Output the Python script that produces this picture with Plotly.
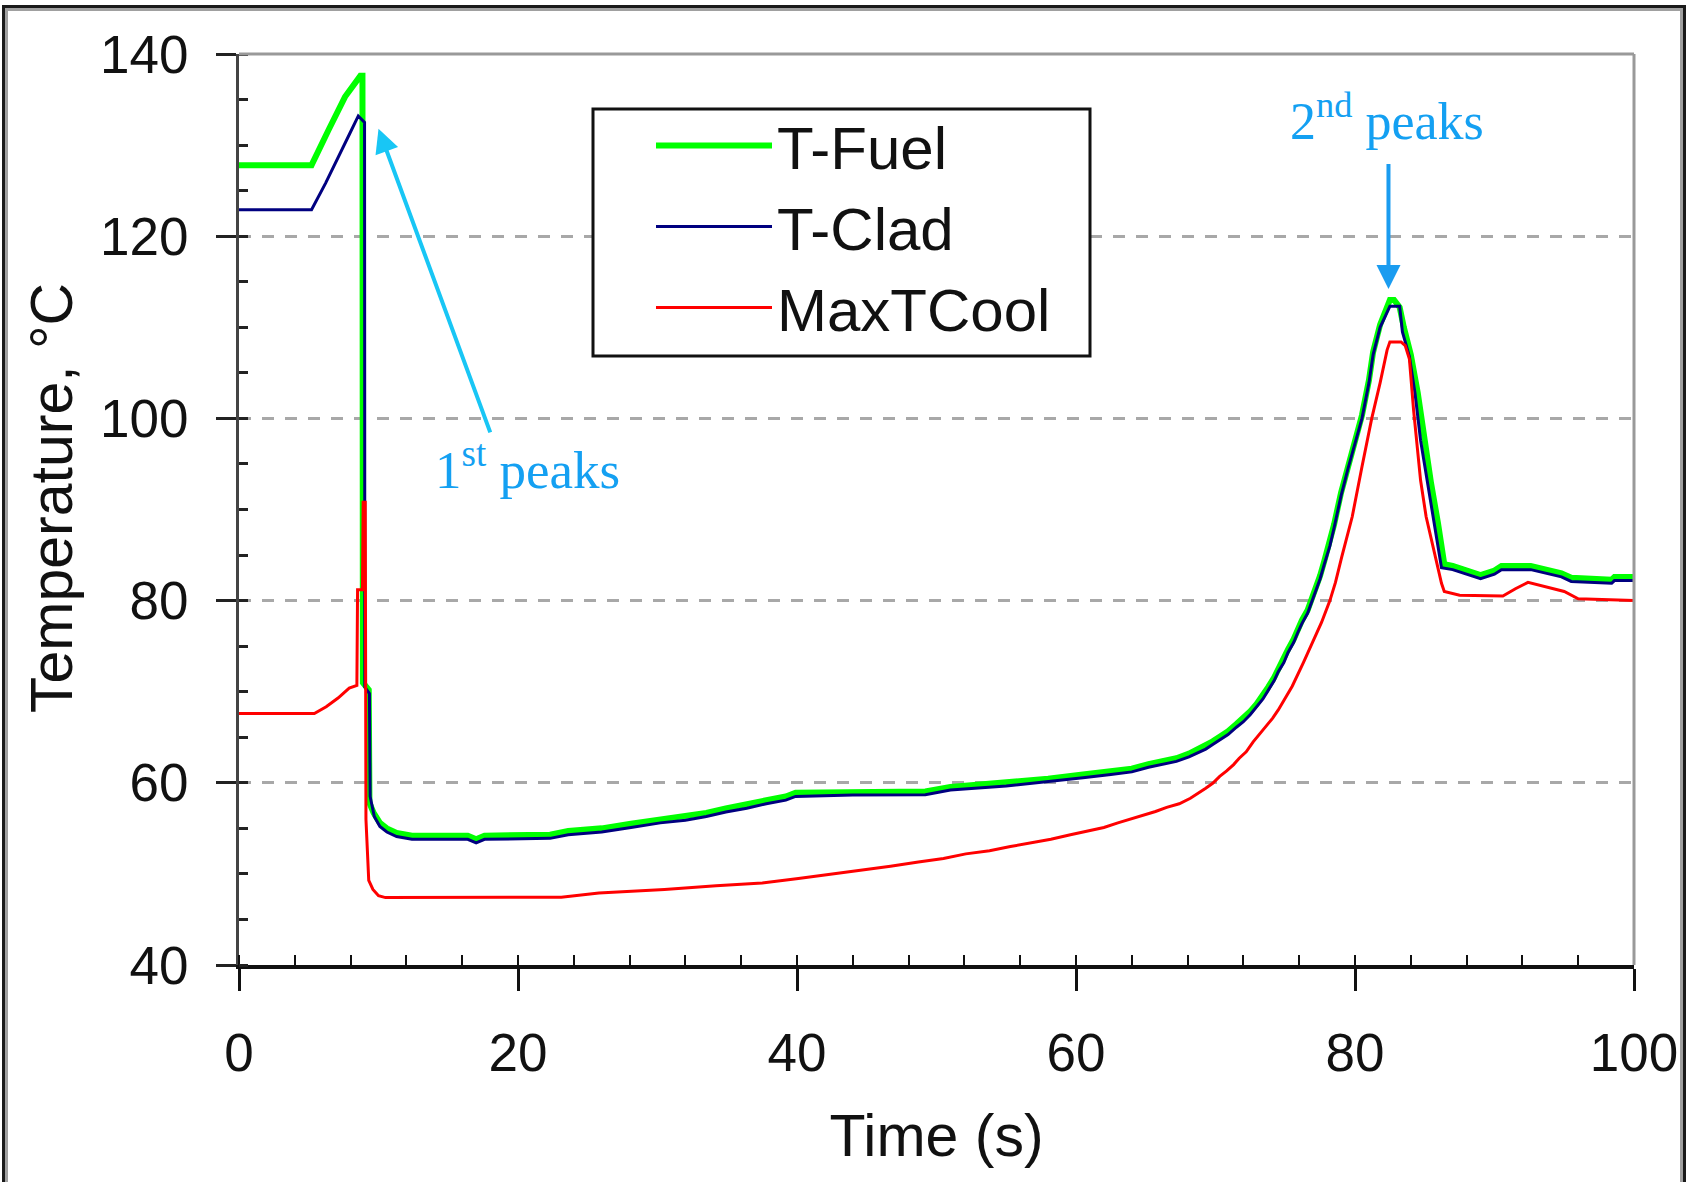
import plotly.graph_objects as go

# ---------------- data ----------------
fuel_t = [0, 5.2, 6.4, 7.6, 8.7, 8.85, 8.88, 9.3, 9.35, 9.65, 10.1, 10.6, 11.3, 12.4, 16.4, 17.0, 17.6,
          22.3, 23.6, 26.0, 28.1, 30.2, 32.0, 33.5, 34.9, 36.4, 37.8, 39.2, 39.9, 44.0, 49.2, 51.0, 55.0,
          58.0, 60.5, 62.5, 64.0, 65.2, 66.1, 67.2, 68.1, 68.7, 69.3, 69.8, 70.3, 70.9, 71.5, 72.0, 72.5,
          72.95, 73.4, 73.8, 74.2, 74.5, 74.9, 75.2, 75.6, 75.9, 76.2, 76.6, 76.9, 77.2, 77.5, 77.8, 78.2,
          78.5, 79.0, 79.5, 80.0, 80.5, 81.0, 81.3, 81.8, 82.2, 82.5, 82.8, 83.2, 83.5, 84.0, 84.5, 84.95,
          85.45, 85.95, 86.2, 86.4, 87.0, 88.0, 89.0, 90.0, 90.5, 92.6, 93.8, 94.8, 95.5, 98.4, 98.6, 100]
fuel_T = [127.8, 127.8, 131.6, 135.3, 137.6, 137.6, 71.0, 70.2, 57.8, 56.7, 55.6, 55.0, 54.5, 54.2, 54.2, 53.8, 54.2,
          54.3, 54.7, 55.0, 55.5, 56.0, 56.3, 56.7, 57.2, 57.6, 58.1, 58.5, 58.9, 59.0, 59.05, 59.55, 60.0,
          60.45, 60.9, 61.25, 61.55, 62.05, 62.35, 62.7, 63.2, 63.65, 64.05, 64.55, 65.05, 65.65, 66.45, 67.05, 67.85,
          68.65, 69.55, 70.55, 71.55, 72.55, 73.55, 74.65, 75.75, 76.85, 77.85, 78.95, 80.15, 81.35, 82.75, 84.35, 86.35,
          88.35, 91.85, 94.85, 97.55, 100.35, 104.2, 107.3, 110.3, 111.8, 113.0, 113.0, 112.2, 110.0, 107.0, 102.8, 97.6,
          92.9, 88.5, 85.6, 84.0, 83.8, 83.3, 82.8, 83.3, 83.8, 83.8, 83.4, 83.0, 82.5, 82.3, 82.6, 82.6]

clad_t = [0, 5.2, 6.2, 7.0, 7.95, 8.55, 8.8, 9.0, 9.02, 9.35, 9.4, 9.7, 10.1, 10.6, 11.3, 12.4, 16.4, 17.0,
          17.6, 22.3, 23.6, 26.0, 28.1, 30.2, 32.0, 33.5, 34.9, 36.4, 37.8, 39.2, 39.9, 44.0, 49.2, 51.0,
          55.0, 58.0, 60.5, 62.5, 64.0, 65.2, 66.1, 67.2, 68.1, 68.7, 69.3, 69.8, 70.3, 70.9, 71.5, 72.0,
          72.5, 72.95, 73.4, 73.8, 74.2, 74.5, 74.9, 75.2, 75.6, 75.9, 76.2, 76.6, 76.9, 77.2, 77.5, 77.8,
          78.2, 78.5, 79.0, 79.5, 80.0, 80.5, 81.0, 81.3, 81.8, 82.2, 82.5, 83.2, 83.4, 83.9, 84.3, 84.7,
          85.2, 85.7, 86.0, 86.2, 87.0, 88.0, 89.0, 90.0, 90.5, 92.6, 93.8, 94.8, 95.5, 98.4, 98.6, 100]
clad_T = [122.9, 122.9, 125.8, 128.4, 131.3, 133.2, 132.8, 132.5, 70.5, 69.8, 58.5, 56.3, 55.2, 54.6, 54.1, 53.8, 53.8, 53.4,
          53.8, 53.9, 54.3, 54.6, 55.1, 55.6, 55.9, 56.3, 56.8, 57.2, 57.7, 58.1, 58.5, 58.65, 58.7, 59.2,
          59.65, 60.1, 60.55, 60.9, 61.2, 61.7, 62.0, 62.35, 62.85, 63.3, 63.7, 64.2, 64.7, 65.3, 66.1, 66.7,
          67.5, 68.3, 69.2, 70.2, 71.2, 72.2, 73.2, 74.3, 75.4, 76.5, 77.5, 78.6, 79.8, 81.0, 82.4, 84.0,
          86.0, 88.0, 91.5, 94.5, 97.2, 100.0, 103.9, 107.0, 110.0, 111.4, 112.3, 112.3, 109.5, 106.8, 102.8, 97.6,
          92.9, 88.5, 85.6, 83.6, 83.4, 82.9, 82.4, 82.9, 83.4, 83.4, 83.0, 82.6, 82.1, 81.9, 82.2, 82.2]

cool_t = [0, 5.4, 6.25, 7.1, 7.9, 8.45, 8.5, 8.85, 8.9, 9.05, 9.1, 9.3, 9.6, 10.0, 10.5, 23.1, 25.8,
          30.5, 34.2, 37.5, 40.1, 42.5, 44.8, 46.7, 48.7, 50.5, 52.1, 53.8, 55.3, 56.7, 58.2, 59.6, 60.8,
          62.0, 63.0, 64.1, 64.9, 65.7, 66.5, 67.4, 68.2, 68.8, 69.3, 69.8, 70.3, 70.8, 71.3, 71.7, 72.2,
          72.7, 73.2, 73.6, 74.1, 74.5, 75.5, 76.3, 77.0, 77.6, 78.2, 78.6, 79.05, 79.8, 80.5, 81.2, 81.8,
          82.3, 82.5, 83.3, 83.6, 83.9, 84.2, 84.7, 85.1, 85.5, 85.9, 86.2, 86.4, 87.5, 90.6, 91.5, 92.4,
          93.5, 95.0, 96.0, 100]
cool_T = [67.6, 67.6, 68.35, 69.3, 70.4, 70.7, 81.2, 81.2, 90.8, 90.8, 56.0, 49.3, 48.3, 47.6, 47.4, 47.45, 47.9,
          48.3, 48.7, 49.0, 49.5, 50.0, 50.4, 50.85, 51.3, 51.7, 52.2, 52.55, 53.0, 53.4, 53.8, 54.3, 54.7,
          55.1, 55.6, 56.1, 56.5, 56.85, 57.3, 57.7, 58.3, 58.85, 59.4, 59.95, 60.7, 61.3, 62.0, 62.7, 63.4,
          64.5, 65.4, 66.2, 67.1, 68.0, 70.6, 73.2, 75.5, 77.6, 80.0, 82.0, 84.8, 89.2, 94.7, 100.0, 103.9,
          107.5, 108.4, 108.4, 108.0, 106.5, 100.9, 93.2, 89.2, 86.6, 84.1, 81.9, 81.0, 80.6, 80.5, 81.3, 82.0,
          81.6, 81.0, 80.2, 80.0]

assert len(fuel_t) == len(fuel_T)
assert len(clad_t) == len(clad_T)
assert len(cool_t) == len(cool_T)

x_ticks = [0, 20, 40, 60, 80, 100]
y_ticks = [40, 60, 80, 100, 120, 140]

# annotation anchor points (data units)
peak1_head = (10.0, 131.8)
peak1_tail = (18.05, 98.3)
peak2_head = (82.4, 114.2)
peak2_tail = (82.4, 128.1)
peak1_label = (20.7, 94.8)
peak2_label = (82.3, 133.0)

SANS = "Liberation Sans, Arial, sans-serif"
SERIF = "Liberation Serif, Times New Roman, serif"
TXT = "#111111"

fig = go.Figure()
fig.add_trace(go.Scatter(x=fuel_t, y=fuel_T, mode="lines", name="T-Fuel",
                         line=dict(color="#00FF00", width=6)))
fig.add_trace(go.Scatter(x=clad_t, y=clad_T, mode="lines", name="T-Clad",
                         line=dict(color="#000080", width=3)))
fig.add_trace(go.Scatter(x=cool_t, y=cool_T, mode="lines", name="MaxTCool",
                         line=dict(color="#FF0000", width=3)))

W, H = 1689, 1182
L, R, T, B = 239, 55, 54, 217
pw, ph = W - L - R, H - T - B

def px_to_paper(px, py):
    return (px - L) / pw, (H - B - py) / ph

fx0, fy0 = px_to_paper(3.5, 1200)
fx1, fy1 = px_to_paper(1684.5, 6.5)
gx0, gy0 = px_to_paper(6.5, 1200)
gx1, gy1 = px_to_paper(1681.5, 9.5)
lx0, ly0 = px_to_paper(593, 356)
lx1, ly1 = px_to_paper(1090, 109)
legx, legy = px_to_paper(593, 100)
ytx, yty = px_to_paper(52, 498)

fig.update_layout(
    width=W, height=H,
    margin=dict(l=L, r=R, t=T, b=B, autoexpand=False),
    paper_bgcolor="white", plot_bgcolor="white",
    font=dict(family=SANS, color=TXT, size=53),
    showlegend=True,
    legend=dict(x=legx, y=legy, xanchor="left", yanchor="top",
                bgcolor="rgba(0,0,0,0)", borderwidth=0,
                font=dict(family=SANS, size=60, color=TXT),
                itemwidth=116, indentation=58),
    xaxis=dict(range=[0, 100], tickmode="array", tickvals=x_ticks,
               ticks="outside", ticklen=22, tickwidth=3, tickcolor="#111",
               ticklabelstandoff=16,
               showline=True, linecolor="#111", linewidth=4,
               showgrid=False, zeroline=False,
               minor=dict(dtick=4, ticks="inside", ticklen=10, tickwidth=2, tickcolor="#111", showgrid=False),
               tickfont=dict(family=SANS, size=53, color=TXT),
               title=dict(text="Time (s)", font=dict(family=SANS, size=59, color=TXT), standoff=35)),
    yaxis=dict(range=[40, 140], tickmode="array", tickvals=y_ticks,
               ticks="outside", ticklen=20, tickwidth=3, tickcolor="#222",
               ticklabelstandoff=17,
               showline=True, linecolor="#444", linewidth=3,
               showgrid=True, gridcolor="#a8a8a8", gridwidth=3, griddash="12px,11px",
               zeroline=False,
               minor=dict(dtick=5, ticks="inside", ticklen=9, tickwidth=3, tickcolor="#222", showgrid=False),
               tickfont=dict(family=SANS, size=53, color=TXT)),
    shapes=[
        dict(type="line", xref="paper", yref="paper", x0=0, x1=1, y0=1, y1=1,
             line=dict(color="#999999", width=3), layer="above"),
        dict(type="line", xref="paper", yref="paper", x0=1, x1=1, y0=0, y1=1,
             line=dict(color="#999999", width=3), layer="above"),
        # legend frame
        dict(type="rect", xref="paper", yref="paper", x0=lx0, x1=lx1, y0=ly0, y1=ly1,
             fillcolor="white", line=dict(color="#111111", width=3), layer="above"),
        # outer picture frame
        dict(type="rect", xref="paper", yref="paper", x0=gx0, x1=gx1, y0=gy0, y1=gy1,
             line=dict(color="#a0a0a0", width=3), layer="above"),
        dict(type="rect", xref="paper", yref="paper", x0=fx0, x1=fx1, y0=fy0, y1=fy1,
             line=dict(color="#1a1a1a", width=3), layer="above"),
    ],
    annotations=[
        # y-axis title
        dict(x=ytx, y=yty, xref="paper", yref="paper", text="Temperature, °C", textangle=-90,
             showarrow=False, font=dict(family=SANS, size=59, color=TXT),
             xanchor="center", yanchor="middle"),
        dict(x=peak1_head[0], y=peak1_head[1], ax=peak1_tail[0], ay=peak1_tail[1],
             xref="x", yref="y", axref="x", ayref="y", text="", showarrow=True,
             arrowhead=2, arrowsize=1.2, arrowwidth=4, arrowcolor="#18C6F5"),
        dict(x=peak2_head[0], y=peak2_head[1], ax=peak2_tail[0], ay=peak2_tail[1],
             xref="x", yref="y", axref="x", ayref="y", text="", showarrow=True,
             arrowhead=2, arrowsize=1.2, arrowwidth=4, arrowcolor="#1A9CF0"),
        dict(x=peak1_label[0], y=peak1_label[1], xref="x", yref="y", text="1<sup>st</sup> peaks",
             showarrow=False, font=dict(family=SERIF, size=53, color="#14A0F2"),
             xanchor="center", yanchor="middle"),
        dict(x=peak2_label[0], y=peak2_label[1], xref="x", yref="y", text="2<sup>nd</sup> peaks",
             showarrow=False, font=dict(family=SERIF, size=52, color="#14A0F2"),
             xanchor="center", yanchor="middle"),
    ],
)

fig.write_html("out.html")
